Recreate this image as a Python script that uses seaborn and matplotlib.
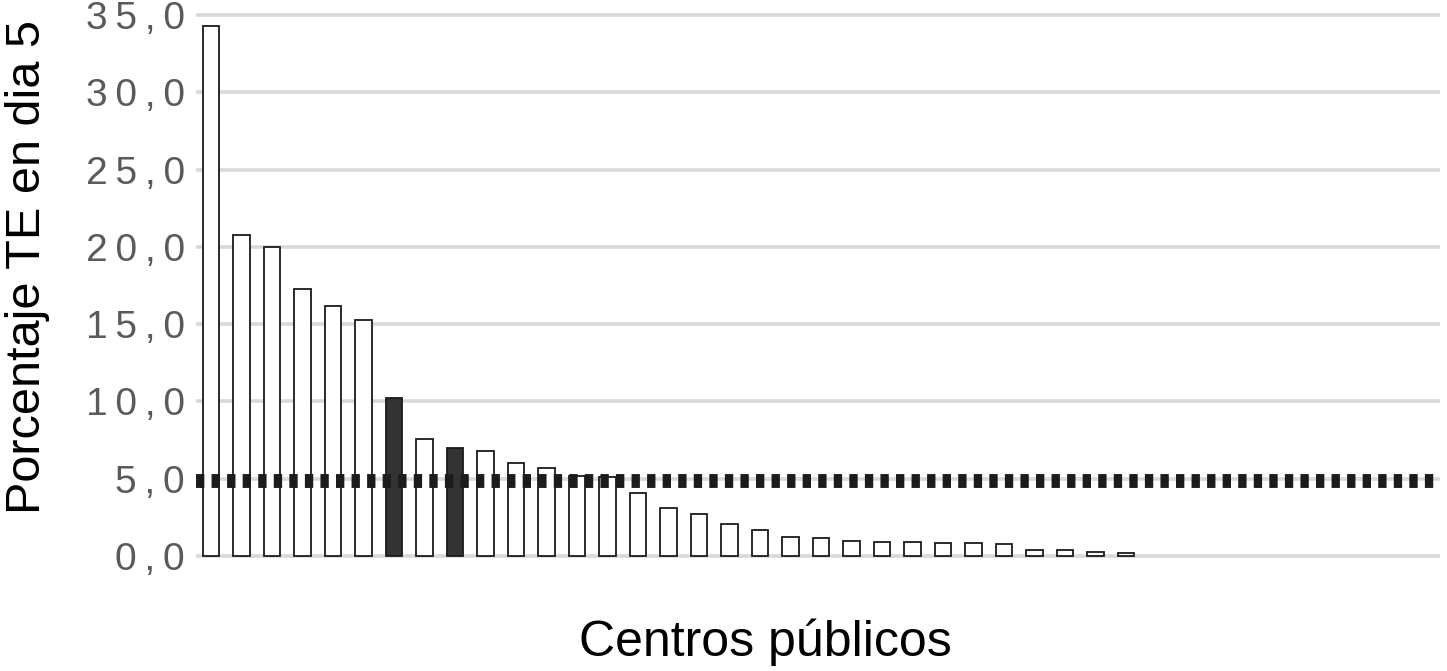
import matplotlib
matplotlib.use("Agg")
import matplotlib.pyplot as plt
import seaborn as sns
import pandas as pd

# ── data ─────────────────────────────────────────────────
centros = [f"C{i:02d}" for i in range(1, 32)]
porcentaje = [34.3, 20.8, 20.0, 17.3, 16.2, 15.3, 10.2, 7.6, 7.0, 6.8,
              6.0, 5.7, 5.2, 5.1, 4.1, 3.1, 2.7, 2.1, 1.7, 1.2,
              1.15, 0.95, 0.9, 0.9, 0.85, 0.82, 0.78, 0.4, 0.38, 0.26, 0.22]
destacado = [7, 9]            # highlighted centres (1-based position)
referencia = 4.85             # dashed reference level
y_ticks = [0, 5, 10, 15, 20, 25, 30, 35]

tipo = ["dark" if i + 1 in destacado else "light" for i in range(len(centros))]
df = pd.DataFrame({"centro": centros, "valor": porcentaje, "tipo": tipo})

sns.set_theme(style="white")
plt.rcParams["font.family"] = ["Liberation Sans", "DejaVu Sans"]

fig = plt.figure(figsize=(14.47, 6.71), dpi=100)
ax = fig.add_axes([0.1353, 0.1645, 0.8599, 0.8200])

sns.barplot(data=df, x="centro", y="valor", hue="tipo", dodge=False,
            palette={"light": "white", "dark": "#333333"}, width=0.53,
            edgecolor="#1a1a1a", linewidth=1.3, legend=False, ax=ax, zorder=2)

ax.axhline(referencia, color="#1c1c1c", linewidth=10, dashes=(0.6, 0.52),
           dash_capstyle="butt", zorder=3)

ax.set_xlim(-0.5, 40.3)
ax.set_ylim(-0.3, 35.3)
ax.set_yticks(y_ticks)
ax.set_yticklabels(["\u2009".join(f"{v:.1f}".replace(".", ",")) for v in y_ticks],
                   fontsize=28, color="#5a5a5a")
ax.set_xticks([])
ax.tick_params(axis="y", length=0, pad=8)
ax.yaxis.grid(True, color="#d9d9d9", linewidth=2.6, zorder=0)
ax.set_axisbelow(True)
sns.despine(ax=ax, left=True, bottom=True)

ax.set_ylabel("Porcentaje TE en dia 5", fontsize=35, color="black")
ax.yaxis.set_label_coords(-0.117, 0.534)
ax.set_xlabel("Centros públicos", fontsize=36, color="black")
ax.xaxis.set_label_coords(0.4576, -0.105)

plt.savefig("out.png", dpi=100)
plt.close()
